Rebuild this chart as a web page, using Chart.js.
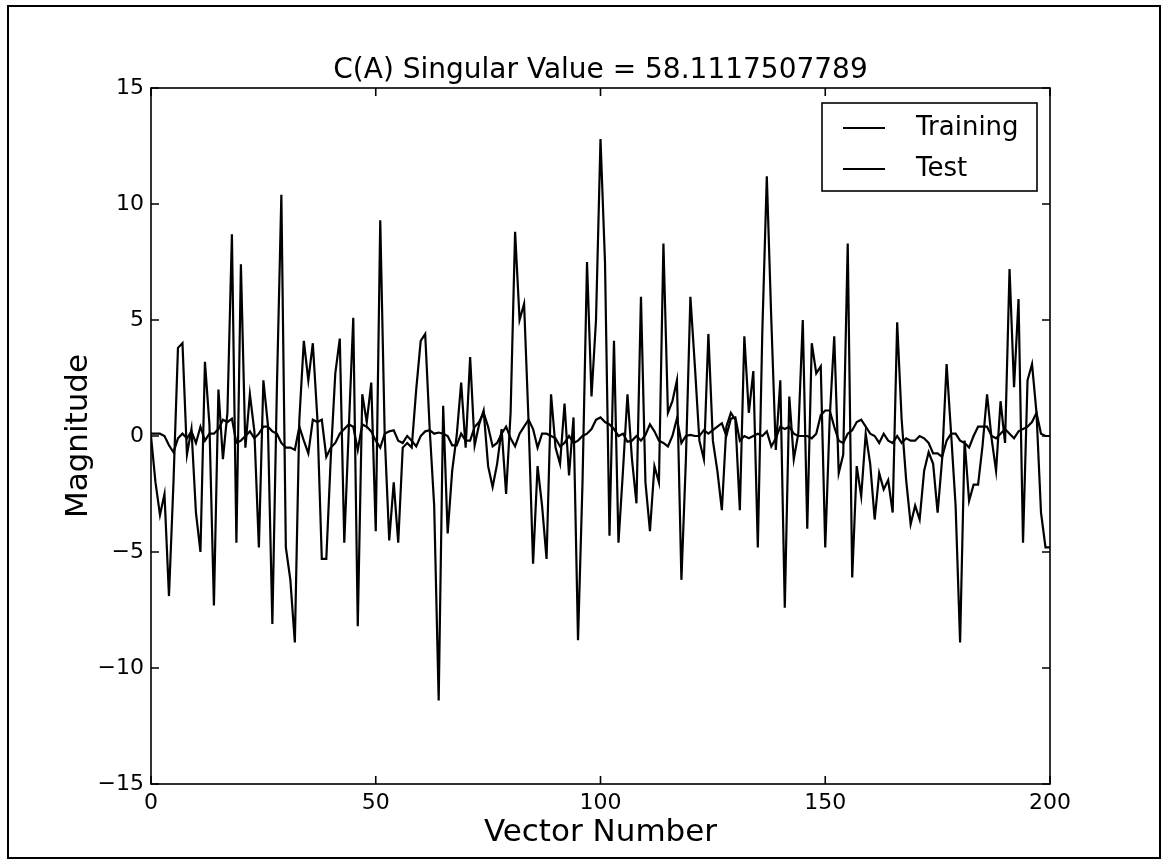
<!DOCTYPE html>
<html lang="en">
<head>
    <meta charset="UTF-8">
    <title>C(A) Singular Value</title>
    <script src="https://cdn.jsdelivr.net/npm/chart.js"></script>
    <style>
        html, body {
            margin: 0;
            padding: 0;
            background-color: white;
        }
        .wrap {
            width: 1165px;
            height: 864px;
        }
    </style>
</head>
<body>
    <div class="wrap">
        <canvas id="svdChart" width="1165" height="864"></canvas>
    </div>

    <script>
        const chartTitle = 'C(A) Singular Value = 58.1117507789';
        const xTicks = [0, 50, 100, 150, 200];
        const yTicks = [-15, -10, -5, 0, 5, 10, 15];

        // one value per vector number 0..200
        const training = [
            0.0, -2.0, -3.4, -2.5, -6.9, -2.0, 3.8, 4.0, -0.8, 0.3,
            -3.3, -5.0, 3.2, 0.5, -7.3, 2.0, -1.0, 1.0, 8.7, -4.6,
            7.4, -0.5, 1.8, 0.2, -4.8, 2.4, 0.5, -8.1, 2.0, 10.4,
            -4.8, -6.2, -8.9, 0.7, 4.1, 2.4, 4.0, 0.8, -5.3, -5.3,
            -0.9, 2.7, 4.2, -4.6, 0.3, 5.1, -8.2, 1.8, 0.6, 2.3,
            -4.1, 9.3, 0.0, -4.5, -2.0, -4.6, -0.5, -0.3, -0.5, 2.0,
            4.1, 4.4, 0.3, -3.0, -11.4, 1.3, -4.2, -1.5, 0.0, 2.3,
            -0.5, 3.4, -0.4, 0.5, 1.1, -1.3, -2.2, -1.2, 0.3, -2.5,
            1.0, 8.8, 5.0, 5.7, 0.6, -5.5, -1.3, -3.0, -5.3, 1.8,
            -0.5, -1.2, 1.4, -1.7, 0.8, -8.8, -2.0, 7.5, 1.7, 5.0,
            12.8, 7.5, -4.3, 4.1, -4.6, -1.5, 1.8, -1.0, -2.9, 6.0,
            -2.0, -4.1, -1.3, -2.0, 8.3, 1.0, 1.5, 2.4, -6.2, -1.0,
            6.0, 3.0, -0.2, -1.0, 4.4, -0.2, -1.5, -3.2, 0.4, 1.0,
            0.7, -3.2, 4.3, 1.0, 2.8, -4.8, 4.5, 11.2, 5.0, -0.6,
            2.4, -7.4, 1.7, -1.0, 0.1, 5.0, -4.0, 4.0, 2.7, 3.0,
            -4.8, 0.8, 4.3, -1.6, -0.8, 8.3, -6.1, -1.3, -2.6, 0.1,
            -1.2, -3.6, -1.6, -2.3, -1.9, -3.3, 4.9, 0.7, -1.9, -3.8,
            -3.0, -3.6, -1.5, -0.7, -1.2, -3.3, -1.0, 3.1, 0.1, -3.0,
            -8.9, -0.2, -2.8, -2.1, -2.1, -0.4, 1.8, -0.1, -1.5, 1.5,
            -0.3, 7.2, 2.1, 5.9, -4.6, 2.4, 3.1, 1.0, -3.3, -4.8,
            -4.8
        ];
        const test = [
            0.1, 0.1, 0.1, 0.0, -0.4, -0.7, -0.1, 0.1, -0.1, 0.2,
            -0.3, 0.4, -0.2, 0.1, 0.1, 0.3, 0.7, 0.6, 0.75, -0.3,
            -0.2, 0.0, 0.2, -0.1, 0.1, 0.4, 0.4, 0.2, 0.1, -0.3,
            -0.5, -0.5, -0.6, 0.4, -0.2, -0.75, 0.7, 0.6, 0.7, -0.9,
            -0.5, -0.3, 0.1, 0.3, 0.5, 0.4, -0.6, 0.5, 0.4, 0.2,
            -0.2, -0.5, 0.1, 0.2, 0.25, -0.2, -0.3, 0.0, -0.2, -0.45,
            0.0, 0.2, 0.25, 0.1, 0.15, 0.1, 0.0, -0.4, -0.4, 0.1,
            -0.2, -0.2, 0.4, 0.6, 1.0, 0.4, -0.45, -0.3, 0.1, 0.4,
            -0.1, -0.45, 0.1, 0.4, 0.7, 0.3, -0.5, 0.1, 0.1, 0.0,
            -0.1, -0.45, -0.3, 0.0, -0.3, -0.2, 0.0, 0.1, 0.3, 0.7,
            0.8, 0.6, 0.5, 0.3, 0.0, 0.1, -0.25, -0.2, 0.0, -0.2,
            0.05, 0.5, 0.2, -0.2, -0.3, -0.45, 0.0, 0.75, -0.3, 0.0,
            0.05, 0.0, 0.0, 0.25, 0.1, 0.25, 0.4, 0.55, 0.0, 0.75,
            0.8, -0.2, 0.0, -0.1, 0.0, 0.1, 0.0, 0.2, -0.45, -0.1,
            0.4, 0.3, 0.4, 0.1, 0.0, 0.0, 0.0, -0.1, 0.1, 0.9,
            1.1, 1.1, 0.4, -0.2, -0.3, 0.1, 0.25, 0.6, 0.7, 0.4,
            0.1, 0.0, -0.3, 0.1, -0.2, -0.3, 0.0, -0.3, -0.1, -0.2,
            -0.2, 0.0, -0.1, -0.3, -0.75, -0.75, -0.9, -0.2, 0.1, 0.1,
            -0.2, -0.3, -0.5, 0.0, 0.4, 0.4, 0.4, 0.0, -0.1, 0.1,
            0.3, 0.1, -0.1, 0.2, 0.3, 0.4, 0.6, 1.0, 0.1, 0.0,
            0.0
        ];

        const FONT = 'DejaVu Sans';
        const toPoints = arr => arr.map((v, i) => ({ x: i, y: v }));
        const minusSign = v => v < 0 ? '\u2212' + Math.abs(v) : String(v);

        // title over the axes, frame on all four sides, inward ticks, boxed legend
        const frameAndLegend = {
            id: 'frameAndLegend',
            afterDatasetsDraw(chart) {
                const { ctx, chartArea: a, scales: { x, y } } = chart;
                ctx.save();

                ctx.fillStyle = '#000';
                ctx.font = '28px "' + FONT + '"';
                ctx.textAlign = 'center';
                ctx.textBaseline = 'alphabetic';
                ctx.fillText(chartTitle, (a.left + a.right) / 2, a.top - 10);

                ctx.strokeStyle = '#000';
                ctx.lineWidth = 1.6;
                ctx.strokeRect(a.left, a.top, a.right - a.left, a.bottom - a.top);

                const len = 8;
                ctx.beginPath();
                x.ticks.forEach(t => {
                    const px = x.getPixelForValue(t.value);
                    ctx.moveTo(px, a.bottom); ctx.lineTo(px, a.bottom - len);
                    ctx.moveTo(px, a.top); ctx.lineTo(px, a.top + len);
                });
                y.ticks.forEach(t => {
                    const py = y.getPixelForValue(t.value);
                    ctx.moveTo(a.left, py); ctx.lineTo(a.left + len, py);
                    ctx.moveTo(a.right, py); ctx.lineTo(a.right - len, py);
                });
                ctx.stroke();

                // legend box, top right inside the axes
                const bw = 215, bh = 88;
                const bx = a.right - 13 - bw, by = a.top + 15;
                ctx.fillStyle = '#fff';
                ctx.fillRect(bx, by, bw, bh);
                ctx.lineWidth = 1.6;
                ctx.strokeRect(bx, by, bw, bh);
                ctx.font = '26px "' + FONT + '"';
                ctx.textAlign = 'left';
                ctx.textBaseline = 'middle';
                ctx.fillStyle = '#000';
                chart.data.datasets.forEach((ds, i) => {
                    const ly = by + 25 + i * 41;
                    ctx.beginPath();
                    ctx.lineWidth = ds.borderWidth;
                    ctx.strokeStyle = ds.borderColor;
                    ctx.moveTo(bx + 21, ly);
                    ctx.lineTo(bx + 63, ly);
                    ctx.stroke();
                    ctx.fillText(ds.label, bx + 94, ly);
                });

                // outer border of the figure
                ctx.lineWidth = 2;
                ctx.strokeStyle = '#000';
                ctx.strokeRect(8, 6, 1152, 852);
                ctx.restore();
            }
        };

        const ctx = document.getElementById('svdChart').getContext('2d');
        const chart = new Chart(ctx, {
            type: 'line',
            data: {
                datasets: [{
                    label: 'Training',
                    data: toPoints(training),
                    borderColor: '#000',
                    borderWidth: 2.2,
                    pointRadius: 0,
                    tension: 0
                }, {
                    label: 'Test',
                    data: toPoints(test),
                    borderColor: '#000',
                    borderWidth: 2.2,
                    pointRadius: 0,
                    tension: 0
                }]
            },
            options: {
                responsive: false,
                animation: false,
                devicePixelRatio: 1,
                layout: { padding: { left: 0, right: 115, top: 88, bottom: 0 } },
                plugins: {
                    legend: { display: false },
                    tooltip: { enabled: false },
                    title: { display: false }
                },
                scales: {
                    x: {
                        type: 'linear',
                        min: 0,
                        max: 200,
                        afterBuildTicks: s => { s.ticks = xTicks.map(v => ({ value: v })); },
                        afterFit: s => { s.height = 80; },
                        grid: { display: false, drawTicks: false },
                        border: { display: false },
                        ticks: {
                            color: '#000',
                            font: { family: FONT, size: 22 },
                            padding: 6,
                            maxRotation: 0,
                            autoSkip: false,
                            callback: minusSign
                        },
                        title: {
                            display: true,
                            text: 'Vector Number',
                            color: '#000',
                            font: { family: FONT, size: 31 },
                            padding: { top: 0, bottom: 12 }
                        }
                    },
                    y: {
                        min: -15,
                        max: 15,
                        afterBuildTicks: s => { s.ticks = yTicks.map(v => ({ value: v })); },
                        afterFit: s => { s.width = 151; },
                        grid: { display: false, drawTicks: false },
                        border: { display: false },
                        ticks: {
                            color: '#000',
                            font: { family: FONT, size: 22 },
                            padding: 7,
                            autoSkip: false,
                            callback: minusSign
                        },
                        title: {
                            display: true,
                            text: 'Magnitude',
                            color: '#000',
                            font: { family: FONT, size: 31 },
                            padding: { top: 60, bottom: 0 }
                        }
                    }
                }
            },
            plugins: [frameAndLegend]
        });
    </script>
</body>
</html>
